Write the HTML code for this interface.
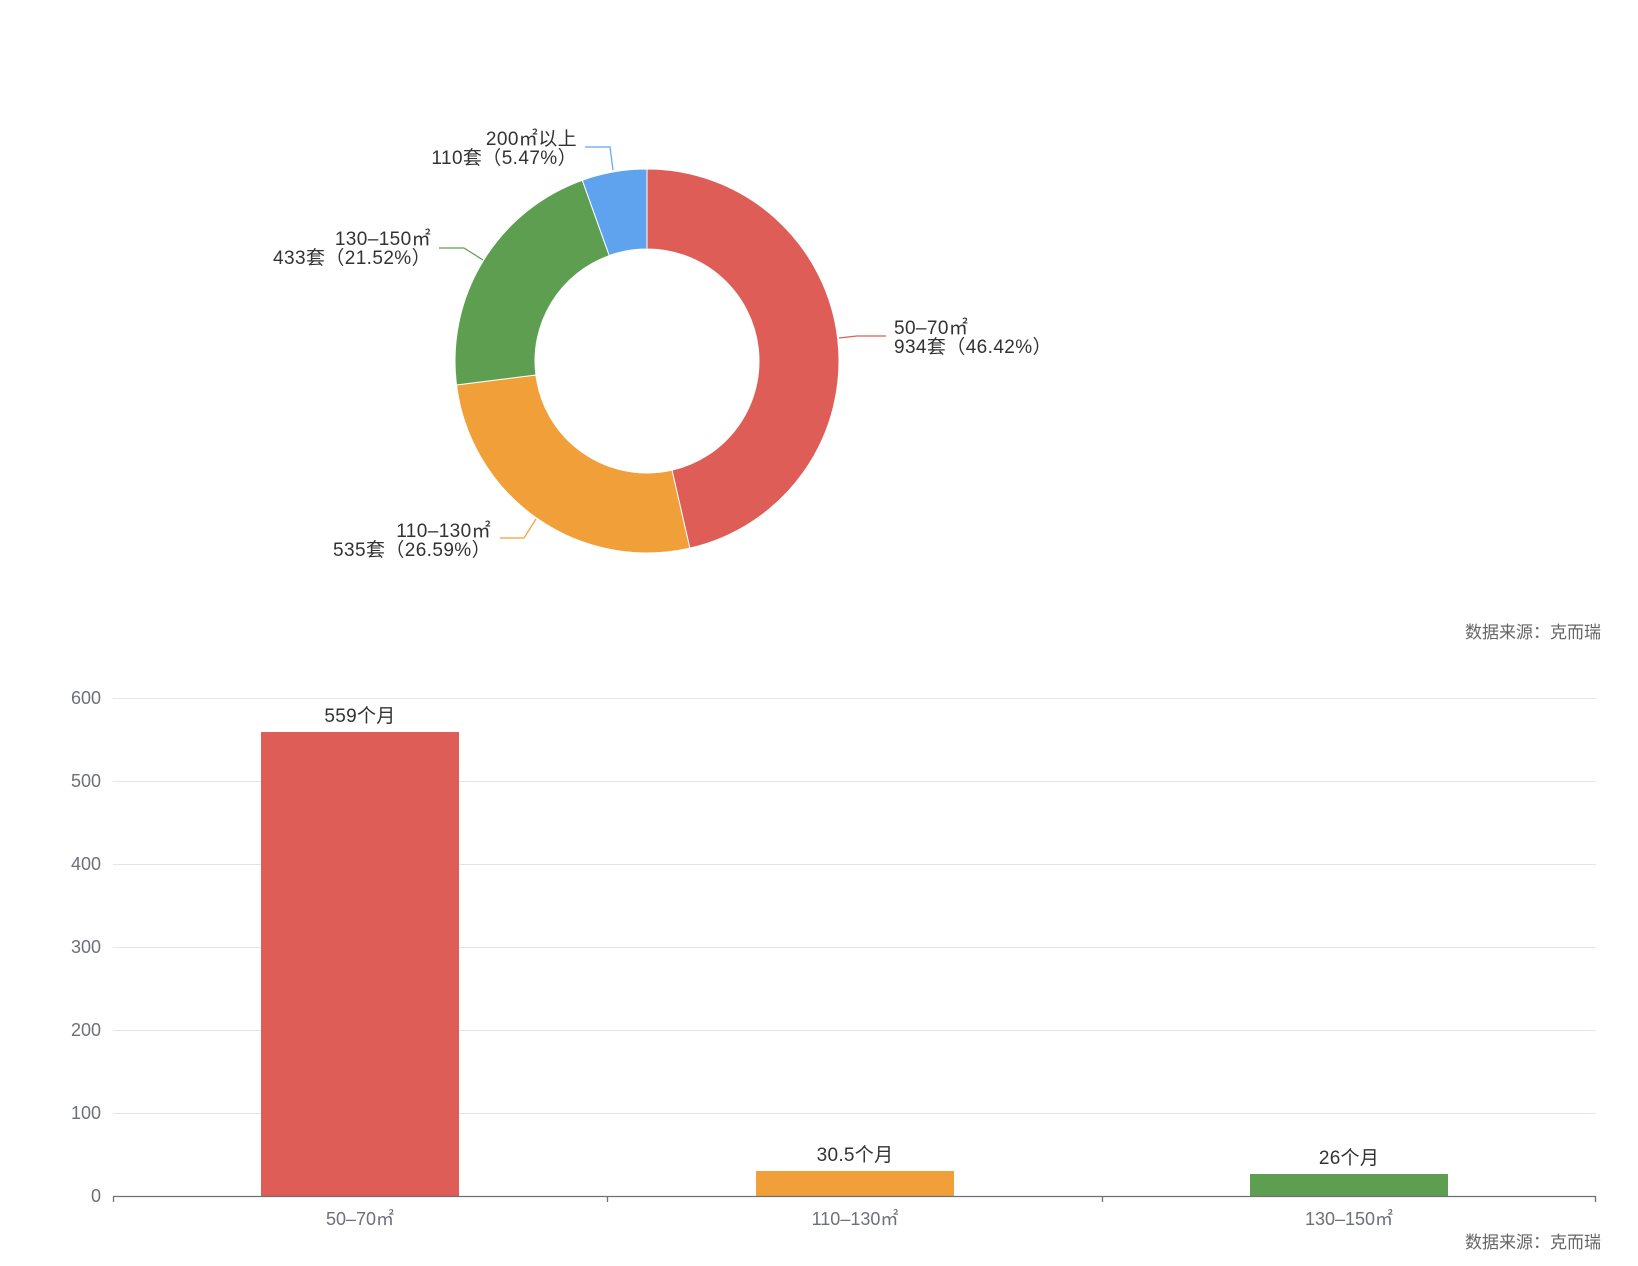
<!DOCTYPE html>
<html><head><meta charset="utf-8"><style>
body{margin:0;background:#fff;}
svg{display:block;font-family:"Liberation Sans","Noto Sans CJK SC",sans-serif;}
</style></head><body>
<svg id="s" width="1638" height="1266" xmlns="http://www.w3.org/2000/svg">
<g id="pie"></g>
<g fill="none" stroke-width="1.2">
<polyline points="839,338 857,336 886,336" stroke="#de5d57"/>
<polyline points="536,519 524,538 500,538" stroke="#f19f38"/>
<polyline points="483,260 464,248 439,248" stroke="#5d9e50"/>
<polyline points="613,170 610,147 585,147" stroke="#5fa3ef"/>
</g>
<g font-size="19" fill="#333" letter-spacing="0.4">
<text x="894" y="334">50–70㎡</text>
<text x="894" y="353">934套（46.42%）</text>
<g text-anchor="end">
<text x="491" y="537">110–130㎡</text>
<text x="491" y="556">535套（26.59%）</text>
<text x="431" y="245">130–150㎡</text>
<text x="431" y="264">433套（21.52%）</text>
<text x="577" y="145">200㎡以上</text>
<text x="577" y="164">110套（5.47%）</text>
</g>
</g>
<g font-size="17" fill="#666" text-anchor="end">
<text x="1601" y="638">数据来源：克而瑞</text>
<text x="1601" y="1248">数据来源：克而瑞</text>
</g>
<g stroke="#e0e6f1" stroke-width="1">
<line x1="113" x2="1596" y1="698.5" y2="698.5"/>
<line x1="113" x2="1596" y1="781.5" y2="781.5"/>
<line x1="113" x2="1596" y1="864.5" y2="864.5"/>
<line x1="113" x2="1596" y1="947.5" y2="947.5"/>
<line x1="113" x2="1596" y1="1030.5" y2="1030.5"/>
<line x1="113" x2="1596" y1="1113.5" y2="1113.5"/>
</g>
<g font-size="18" fill="#6e7079" text-anchor="end">
<text x="101" y="704">600</text>
<text x="101" y="787">500</text>
<text x="101" y="870">400</text>
<text x="101" y="953">300</text>
<text x="101" y="1036">200</text>
<text x="101" y="1119">100</text>
<text x="101" y="1202">0</text>
</g>
<rect x="261" y="732" width="198" height="464" fill="#de5d57"/>
<rect x="756" y="1171" width="198" height="25" fill="#f19f38"/>
<rect x="1250" y="1174" width="198" height="22" fill="#5d9e50"/>
<g stroke="#6e7079" stroke-width="1.3">
<line x1="113" x2="1596" y1="1196.5" y2="1196.5"/>
<line x1="113.5" x2="113.5" y1="1196" y2="1202"/>
<line x1="607.5" x2="607.5" y1="1196" y2="1202"/>
<line x1="1102.5" x2="1102.5" y1="1196" y2="1202"/>
<line x1="1595.5" x2="1595.5" y1="1196" y2="1202"/>
</g>
<g font-size="19" fill="#333" text-anchor="middle" letter-spacing="0.3">
<text x="360" y="722">559个月</text>
<text x="855" y="1161">30.5个月</text>
<text x="1349" y="1164">26个月</text>
</g>
<g font-size="18" fill="#6e7079" text-anchor="middle">
<text x="360" y="1225">50–70㎡</text>
<text x="855" y="1225">110–130㎡</text>
<text x="1349" y="1225">130–150㎡</text>
</g>
</svg>
<script>
(function(){
var cx=647,cy=361,R=192,r=112;
var d=[[46.42,"#de5d57"],[26.59,"#f19f38"],[21.52,"#5d9e50"],[5.47,"#5fa3ef"]];
var a=0,g=document.getElementById("pie"),out="";
function p(rad,t){return [cx+rad*Math.sin(t),cy-rad*Math.cos(t)];}
d.forEach(function(x){
 var a2=a+x[0]/100*2*Math.PI;var lg=(a2-a)>Math.PI?1:0;
 var A=p(R,a),B=p(R,a2),C=p(r,a2),D=p(r,a);
 out+='<path fill="'+x[1]+'" stroke="#fff" stroke-width="1" d="M'+A+' A'+R+','+R+' 0 '+lg+' 1 '+B+' L'+C+' A'+r+','+r+' 0 '+lg+' 0 '+D+' Z"/>';
 a=a2;});
g.innerHTML=out;
})();
</script>
</body></html>
